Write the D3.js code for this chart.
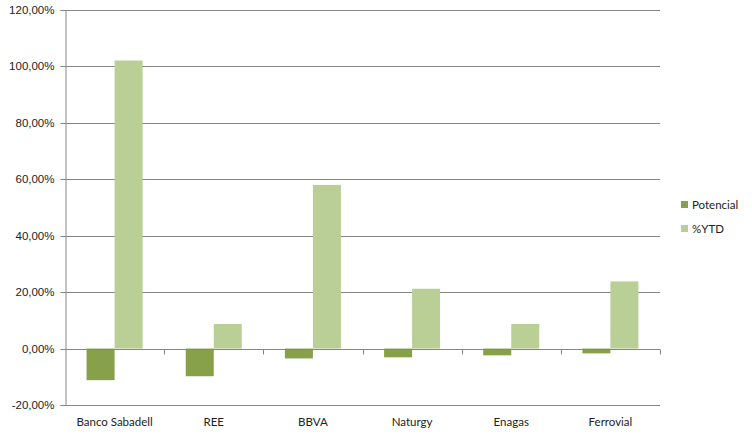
<!DOCTYPE html>
<html>
<head>
<meta charset="utf-8">
<script src="https://cdn.jsdelivr.net/npm/d3@7"></script>
<style>
  body { margin: 0; background: #fff; }
  svg { display: block; font-family: Lato, "Open Sans", sans-serif; }
</style>
</head>
<body>
<div id="chart"></div>
<script>
const categories = ["Banco Sabadell", "REE", "BBVA", "Naturgy", "Enagas", "Ferrovial"];
const seriesNames = ["Potencial", "%YTD"];
const potencial = [-0.112, -0.098, -0.035, -0.031, -0.024, -0.017];
const ytd = [1.021, 0.087, 0.580, 0.212, 0.087, 0.238];
const yTicks = [-0.2, 0, 0.2, 0.4, 0.6, 0.8, 1.0, 1.2];
const colors = ["#87a14b", "#b9cf96"];

const W = 752, H = 437;
const margin = { left: 65, right: 92, top: 10, bottom: 32 };
const svg = d3.select("#chart").append("svg").attr("width", W).attr("height", H);

const x = d3.scaleBand().domain(categories).range([margin.left, W - margin.right]).paddingInner(0).paddingOuter(0);
const y = d3.scaleLinear().domain([-0.2, 1.2]).range([H - margin.bottom, margin.top]);
const x1 = d3.scaleBand().domain(seriesNames).range([0, x.bandwidth()]).paddingInner(0).paddingOuter(0.77);

const fmt = v => (v * 100).toFixed(2).replace(".", ",") + "%";

// gridlines
svg.append("g").selectAll("line").data(yTicks).join("line")
  .attr("x1", margin.left).attr("x2", W - margin.right)
  .attr("y1", d => Math.round(y(d)) + 0.5).attr("y2", d => Math.round(y(d)) + 0.5)
  .attr("stroke", "#868686").attr("stroke-width", 1);

// y axis
const yAxis = d3.axisLeft(y).tickValues(yTicks).tickFormat(fmt).tickSize(5).tickPadding(6);
const gy = svg.append("g").attr("transform", `translate(${margin.left + 0.5},0)`).call(yAxis);
gy.select(".domain").attr("stroke", "#868686");
gy.selectAll(".tick line").attr("stroke", "#868686");
gy.selectAll(".tick text").attr("font-size", 11.5).attr("fill", "#222");
gy.selectAll(".tick").attr("transform", d => `translate(0,${Math.round(y(d)) + 0.5})`);

// bars
const data = categories.map((c, i) => ({ cat: c, values: [potencial[i], ytd[i]] }));
const groups = svg.append("g").selectAll("g").data(data).join("g")
  .attr("transform", d => `translate(${x(d.cat)},0)`);
groups.selectAll("rect").data(d => d.values.map((v, j) => ({ v, s: seriesNames[j], j })))
  .join("rect")
  .attr("x", d => x1(d.s))
  .attr("width", x1.bandwidth())
  .attr("y", d => y(Math.max(0, d.v)))
  .attr("height", d => Math.abs(y(d.v) - y(0)))
  .attr("fill", d => colors[d.j]);

// zero-line axis with category ticks
const zeroY = Math.round(y(0)) + 0.5;
svg.append("line").attr("x1", margin.left).attr("x2", W - margin.right)
  .attr("y1", zeroY).attr("y2", zeroY).attr("stroke", "#868686");
const boundaries = categories.map(c => x(c) + x.bandwidth());
svg.append("g").selectAll("line").data(boundaries).join("line")
  .attr("x1", d => Math.round(d) + 0.5).attr("x2", d => Math.round(d) + 0.5)
  .attr("y1", zeroY).attr("y2", zeroY + 5).attr("stroke", "#868686");

// category labels
svg.append("g").selectAll("text").data(categories).join("text")
  .attr("x", d => x(d) + x.bandwidth() / 2)
  .attr("y", H - 11)
  .attr("text-anchor", "middle")
  .attr("font-size", 11.5).attr("fill", "#222")
  .text(d => d);

// legend
const legend = svg.append("g").attr("transform", "translate(681,199)");
seriesNames.forEach((s, i) => {
  const g = legend.append("g").attr("transform", `translate(0,${i * 24})`);
  g.append("rect").attr("width", 7).attr("height", 7).attr("y", 2).attr("fill", colors[i]);
  g.append("text").attr("x", 11).attr("y", 10).attr("font-size", 11.5).attr("fill", "#222").text(s);
});
</script>
</body>
</html>
